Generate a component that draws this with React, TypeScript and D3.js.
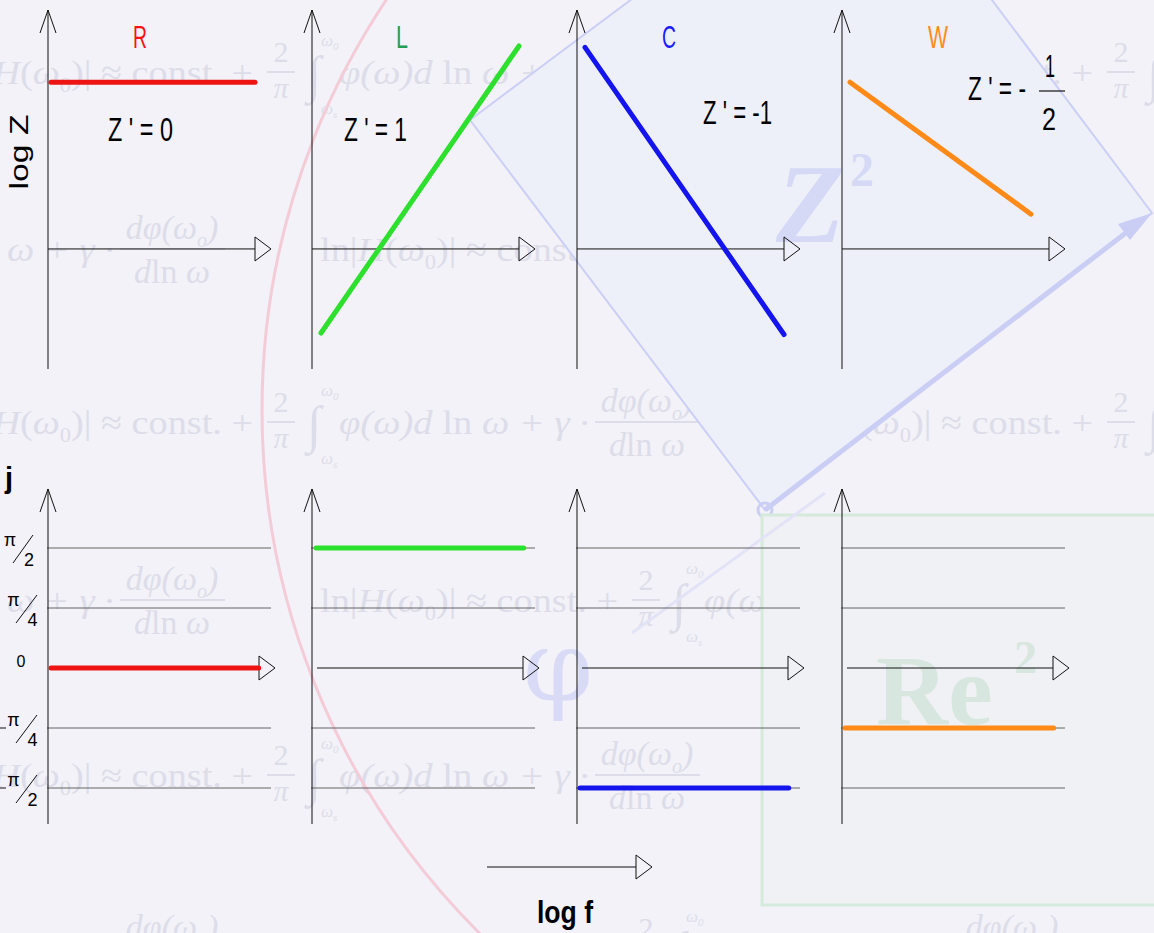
import React, { useEffect } from 'react';
import * as d3 from 'd3';

// Circuit elements and their impedance behaviour on log scales
const elements = ['R', 'L', 'C', 'W'];
const slopeNumerators = ['0', '1', '-1', '-'];
const slopeFractions = [null, null, null, ['1', '2']];

// log|Z| segments (log f in units from each panel origin)
const logFStart = [0.15, 0.45, 0.4, 0.4];
const logFEnd = [10.35, 10.35, 10.35, 9.45];
const logZStart = [5.75, -2.9, 6.95, 5.75];
const logZEnd = [5.75, 7.0, -2.95, 1.2];

// phase segments
const phaseValues = [0, Math.PI / 2, -Math.PI / 2, -Math.PI / 4];
const phaseFStart = [0.15, 0.2, 0.15, 0.15];
const phaseFEnd = [10.35, 10.4, 10.4, 10.4];

// phase axis ticks
const phaseTicks = [Math.PI / 2, Math.PI / 4, 0, -Math.PI / 4, -Math.PI / 2];
const phaseTickSign = ['', '', '', '-', '-'];
const phaseTickDen = ['2', '4', '', '4', '2'];

// palette
const lineColors = ['#ee1414', '#2ee02e', '#1414ee', '#ff8a18'];
const labelColors = ['#ff1010', '#1f9e55', '#1a1aff', '#ff8c1a'];

// layout
const W = 1154;
const H = 933;
const panelAxisX = [48, 312, 577, 842];
const labelCenterX = [140, 402, 669, 938];
const labelWidth = [14, 12, 14, 20];
const slopeLabelBox = [
  [108, 173, 141],
  [344, 407, 141],
  [703, 772, 124],
  [968, 1026, 100],
];
const formulaRows = [72, 249, 422, 600, 775, 948];

const BG = '#f2f2f8';
const WM = '#dddde9';

function Formula({ x, y }: { x: number; y: number }) {
  return (
    <g transform={`translate(${x},${y})`} fill={WM} fontFamily="'Liberation Serif', 'DejaVu Serif', serif">
      <text x={0} y={12} fontSize={34} textLength={298} lengthAdjust="spacingAndGlyphs">
        ln|<tspan fontStyle="italic">H</tspan>(<tspan fontStyle="italic">ω</tspan>
        <tspan fontSize={20} dy={8}>0</tspan>
        <tspan dy={-8}>)| ≈ const. +</tspan>
      </text>
      <text x={326} y={-10} fontSize={30} textAnchor="middle">2</text>
      <line x1={312} x2={340} y1={0} y2={0} stroke={WM} strokeWidth={2} />
      <text x={326} y={26} fontSize={30} textAnchor="middle" fontStyle="italic">π</text>
      <text x={352} y={20} fontSize={52}>∫</text>
      <text x={366} y={-26} fontSize={17} fontStyle="italic">ω<tspan fontSize={11} dy={4}>0</tspan></text>
      <text x={366} y={42} fontSize={17} fontStyle="italic">ω<tspan fontSize={11} dy={4}>s</tspan></text>
      <text x={384} y={12} fontSize={34} fontStyle="italic" textLength={250} lengthAdjust="spacingAndGlyphs">
        φ(ω)d <tspan fontStyle="normal">ln</tspan> ω + γ ·
      </text>
      <text x={692} y={-10} fontSize={34} fontStyle="italic" textAnchor="middle">
        dφ(ω<tspan fontSize={20} dy={8}>o</tspan><tspan dy={-8}>)</tspan>
      </text>
      <line x1={640} x2={745} y1={0} y2={0} stroke={WM} strokeWidth={2} />
      <text x={692} y={34} fontSize={34} fontStyle="italic" textAnchor="middle">
        d<tspan fontStyle="normal">ln</tspan> ω
      </text>
    </g>
  );
}

function Backdrop() {
  const formulas: JSX.Element[] = [];
  formulaRows.forEach((ry, i) => {
    const origin = i % 2 === 0 ? -45 : 320;
    for (let k = -1; k <= 1; k++) {
      formulas.push(<Formula key={`${i}-${k}`} x={origin + k * 840} y={ry} />);
    }
  });
  const square = [
    [470, 120],
    [862, -173],
    [1152, 213],
    [765, 510],
  ];
  const squarePath = d3.line()(square as [number, number][]) + 'Z';
  return (
    <g>
      <rect x={0} y={0} width={W} height={H} fill={BG} />
      {formulas}
      <circle cx={1000} cy={410} r={738} fill="none" stroke="#f4ccd8" strokeWidth={3} />
      <path d={squarePath} fill="#edf0f9" stroke="#cbcff4" strokeWidth={2} />
      <line x1={765} y1={510} x2={1140} y2={222} stroke="#cacdf4" strokeWidth={5} />
      <path d="M1152,213 L1118,224 L1130,240 Z" fill="#cacdf4" />
      <circle cx={765} cy={510} r={7} fill="none" stroke="#cbcff4" strokeWidth={3} />
      <text x={776} y={242} fontSize={112} fontWeight="bold" fontStyle="italic" fill="#d6d9f6"
        fontFamily="'Liberation Serif', serif">Z</text>
      <text x={850} y={186} fontSize={48} fontWeight="bold" fill="#d6d9f6"
        fontFamily="'Liberation Serif', serif">2</text>
      <rect x={762} y={515} width={400} height={390} fill="#eff1f4" stroke="#d6eadc" strokeWidth={3} />
      <text x={876} y={724} fontSize={100} fontWeight="bold" fill="#d8e6e0"
        fontFamily="'Liberation Serif', serif">Re</text>
      <text x={1014} y={673} fontSize={46} fontWeight="bold" fill="#d8e6e0"
        fontFamily="'Liberation Serif', serif">2</text>
      <line x1={632} y1={633} x2={825} y2={493} stroke="#e2e3f6" strokeWidth={3} />
      <text x={558} y={700} fontSize={100} fill="#d9dbf6" textAnchor="middle"
        fontFamily="'DejaVu Serif', serif">φ</text>
    </g>
  );
}

function UpArrow({ x, y1, y2 }: { x: number; y1: number; y2: number }) {
  return (
    <g stroke="#111" strokeWidth={1} fill="none">
      <line x1={x} y1={y2} x2={x} y2={y1} />
      <path d={`M${x - 8},${y1 + 23} L${x},${y1} L${x + 8},${y1 + 23}`} />
    </g>
  );
}

function RightArrow({ x1, x2, y }: { x1: number; x2: number; y: number }) {
  return (
    <g stroke="#111" strokeWidth={1}>
      <line x1={x1} y1={y} x2={x2 - 16} y2={y} />
      <path d={`M${x2 - 16},${y - 12} L${x2},${y} L${x2 - 16},${y + 12} Z`} fill="none" />
    </g>
  );
}

export default function App() {
  useEffect(() => {
    document.body.style.margin = '0';
  }, []);

  const yZ = d3.scaleLinear().domain([-4.14, 8.24]).range([369, 10]);
  const yPhi = d3.scaleLinear().domain([-Math.PI / 2, Math.PI / 2]).range([788, 548]);
  const xPanel = (i: number, bottom = false) =>
    d3.scaleLinear().domain([0, 11.15]).range([panelAxisX[i], panelAxisX[i] + (bottom ? 227 : 223)]);
  const line = d3.line();
  const sans = "'Liberation Sans', Arial, sans-serif";

  return (
    <svg width={W} height={H} style={{ position: 'absolute', left: 0, top: 0 }} fontFamily={sans}>
      <Backdrop />

      {/* y-axis titles */}
      <text transform="translate(28,152) rotate(-90)" fontSize={26} textAnchor="middle"
        textLength={75} lengthAdjust="spacingAndGlyphs">log Z</text>
      <text x={5} y={488} fontSize={29} fontWeight="bold">j</text>

      {/* magnitude panels */}
      {elements.map((el, i) => {
        const x = xPanel(i);
        const ax = panelAxisX[i];
        const zero = yZ(0);
        const [lx, rx, by] = slopeLabelBox[i];
        const frac = slopeFractions[i];
        const txt = `Z ' = ${slopeNumerators[i]}`;
        return (
          <g key={`mag-${el}`}>
            <UpArrow x={ax} y1={yZ(8.24)} y2={yZ(-4.14)} />
            <RightArrow x1={ax} x2={x(11.15)} y={zero} />
            <path
              d={line([[x(logFStart[i]), yZ(logZStart[i])], [x(logFEnd[i]), yZ(logZEnd[i])]]) as string}
              stroke={lineColors[i]} strokeWidth={5} strokeLinecap="round" fill="none" />
            <text x={labelCenterX[i] - labelWidth[i] / 2} y={48} fontSize={32} fill={labelColors[i]}
              textLength={labelWidth[i]} lengthAdjust="spacingAndGlyphs">{el}</text>
            <text x={lx} y={by} fontSize={34} textLength={rx - lx} lengthAdjust="spacingAndGlyphs">{txt}</text>
            {frac && (
              <g>
                <text x={1050} y={77} fontSize={31} textAnchor="middle" textLength={10}
                  lengthAdjust="spacingAndGlyphs">{frac[0]}</text>
                <line x1={1039} x2={1065} y1={91} y2={91} stroke="#111" strokeWidth={1.2} />
                <text x={1049} y={130} fontSize={31} textAnchor="middle" textLength={14}
                  lengthAdjust="spacingAndGlyphs">{frac[1]}</text>
              </g>
            )}
          </g>
        );
      })}

      {/* phase panels */}
      {elements.map((el, i) => {
        const x = xPanel(i, true);
        const ax = panelAxisX[i];
        return (
          <g key={`phase-${el}`}>
            {phaseTicks.filter((t) => t !== 0).map((t) => (
              <line key={t} x1={ax - 1} x2={ax + 223} y1={yPhi(t)} y2={yPhi(t)}
                stroke="#555" strokeWidth={0.9} />
            ))}
            <UpArrow x={ax} y1={489} y2={824} />
            <RightArrow x1={ax + 5} x2={x(11.15)} y={yPhi(0)} />
            <path
              d={line([[x(phaseFStart[i]), yPhi(phaseValues[i])], [x(phaseFEnd[i]), yPhi(phaseValues[i])]]) as string}
              stroke={lineColors[i]} strokeWidth={5} strokeLinecap="round" fill="none" />
          </g>
        );
      })}

      {/* phase tick labels */}
      {phaseTicks.map((t, k) => {
        const y = yPhi(t);
        if (phaseTickDen[k] === '') {
          return <text key={k} x={21} y={y - 1} fontSize={16} textAnchor="middle">0</text>;
        }
        const top = k === 0;
        return (
          <g key={k} fontSize={18}>
            {phaseTickSign[k] && <line x1={0} x2={6} y1={y} y2={y} stroke="#111" strokeWidth={1} />}
            <text x={top ? 10 : 13.5} y={y - 2} textAnchor="middle">π</text>
            <line x1={top ? 13 : 16} y1={y + 15} x2={top ? 33 : 37} y2={y - 13} stroke="#111" strokeWidth={1} />
            <text x={top ? 29 : 32.5} y={y + 18} textAnchor="middle">{phaseTickDen[k]}</text>
          </g>
        );
      })}

      {/* shared frequency axis */}
      <RightArrow x1={487} x2={652} y={867} />
      <text x={537} y={923} fontSize={32} fontWeight="bold" textLength={56}
        lengthAdjust="spacingAndGlyphs">log  f</text>
    </svg>
  );
}
